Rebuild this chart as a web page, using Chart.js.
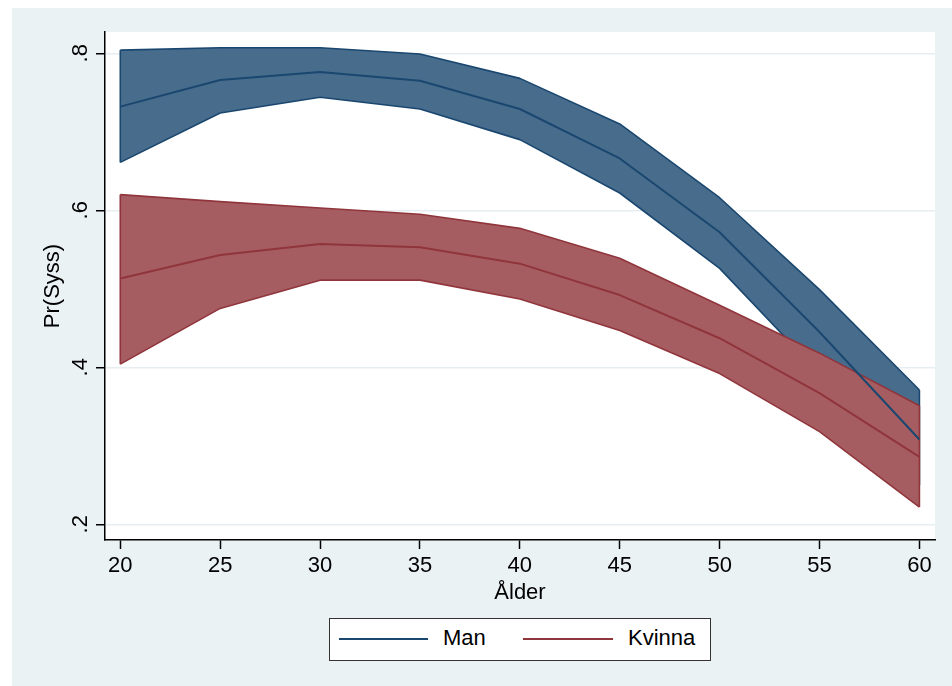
<!DOCTYPE html>
<html>
<head>
<meta charset="utf-8">
<script src="https://cdn.jsdelivr.net/npm/chart.js@4.4.1/dist/chart.umd.min.js"></script>
<style>
  html, body { margin: 0; padding: 0; background: #fff; }
  #wrap { position: relative; width: 952px; height: 686px; }
  #graf { position: absolute; left: 0; top: 0; }
  #legenda {
    position: absolute; left: 329px; top: 618px; width: 380px; height: 41px;
    background: #fff; border: 1.5px solid #333;
    font-family: "Liberation Sans", Arial, sans-serif; font-size: 22px; color: #000;
  }
  .riga { position: absolute; height: 2px; top: 19px; }
  .etic { position: absolute; top: 6px; line-height: 26px; }
</style>
</head>
<body>
<div id="wrap">
  <canvas id="graf" width="952" height="686"></canvas>
  <div id="legenda">
    <div class="riga" style="left:9px;width:89px;background:#1a476f"></div>
    <div class="etic" style="left:113px">Man</div>
    <div class="riga" style="left:193px;width:90px;background:#90353b"></div>
    <div class="etic" style="left:298px">Kvinna</div>
  </div>
</div>
<script>
// valori
var alder = [20, 25, 30, 35, 40, 45, 50, 55, 60];

var manHi  = [0.804, 0.807, 0.807, 0.799, 0.768, 0.710, 0.616, 0.499, 0.371];
var manFit = [0.732, 0.766, 0.776, 0.765, 0.729, 0.666, 0.572, 0.445, 0.308];
var manLo  = [0.661, 0.724, 0.744, 0.729, 0.690, 0.622, 0.526, 0.392, 0.250];

var kvHi  = [0.620, 0.611, 0.603, 0.595, 0.577, 0.539, 0.479, 0.418, 0.351];
var kvFit = [0.513, 0.543, 0.557, 0.553, 0.532, 0.492, 0.437, 0.367, 0.286];
var kvLo  = [0.404, 0.475, 0.511, 0.511, 0.487, 0.447, 0.392, 0.318, 0.222];

var xTicks = [20, 25, 30, 35, 40, 45, 50, 55, 60];
var yTicks = [0.2, 0.4, 0.6, 0.8];
var yTickLabels = [".2", ".4", ".6", ".8"];

var FONT = '"Liberation Sans", Arial, sans-serif';

function punti(valori){
  var out = [];
  for (var i = 0; i < alder.length; i++) {
    out.push({x: alder[i], y: valori[i]});
  }
  return out;
}

// bordi verticali della banda (primo e ultimo valore di età)
function bordo(lo, hi, i){
  return [{x: alder[i], y: lo[i]}, {x: alder[i], y: hi[i]}];
}

// sfondo stile Stata + testi ruotati dell'asse y
var sfondo = {
  id: 'sfondo',
  beforeDraw: function(chart){
    var ctx = chart.ctx;
    var a = chart.chartArea;
    ctx.save();
    ctx.fillStyle = '#eaf2f3';
    ctx.fillRect(12, 8, 940, 678);
    ctx.fillStyle = '#ffffff';
    ctx.fillRect(a.left, a.top, a.right - a.left, a.bottom - a.top);
    ctx.restore();
  },
  afterDraw: function(chart){
    var ctx = chart.ctx;
    var a = chart.chartArea;
    var sy = chart.scales.y;
    ctx.save();
    ctx.fillStyle = '#000';
    ctx.font = '22px ' + FONT;
    ctx.textAlign = 'center';
    ctx.textBaseline = 'alphabetic';
    for (var i = 0; i < yTicks.length; i++) {
      var py = sy.getPixelForValue(yTicks[i]);
      ctx.save();
      ctx.translate(87, py);
      ctx.rotate(-Math.PI / 2);
      ctx.fillText(yTickLabels[i], 0, 0);
      ctx.restore();
    }
    // titolo asse y
    ctx.save();
    ctx.translate(59, (a.top + a.bottom) / 2);
    ctx.rotate(-Math.PI / 2);
    ctx.fillText('Pr(Syss)', 0, 0);
    ctx.restore();
    // titolo asse x
    ctx.fillText('Ålder', (a.left + a.right) / 2, 599);
    ctx.restore();
  }
};

function bandaBordo(dati, colore, ordine){
  return { data: dati, borderColor: colore, borderWidth: 1.6, fill: false, order: ordine };
}

function init(){

  var n = alder.length - 1;
  var ctx = document.getElementById('graf').getContext('2d');
  var chart = new Chart(ctx, {
    type: 'line',
    data: {
      datasets: [
        {
          label: 'Man hi',
          data: punti(manHi),
          borderColor: '#1a476f',
          backgroundColor: 'rgb(72,108,140)',
          borderWidth: 1.6,
          fill: '+1',
          order: 10
        },
        {
          label: 'Man lo',
          data: punti(manLo),
          borderColor: '#1a476f',
          borderWidth: 1.6,
          fill: false,
          order: 9
        },
        bandaBordo(bordo(manLo, manHi, 0), '#1a476f', 8),
        bandaBordo(bordo(manLo, manHi, n), '#1a476f', 8),
        {
          label: 'Kvinna hi',
          data: punti(kvHi),
          borderColor: '#90353b',
          backgroundColor: 'rgb(166,93,98)',
          borderWidth: 1.6,
          fill: '+1',
          order: 7
        },
        {
          label: 'Kvinna lo',
          data: punti(kvLo),
          borderColor: '#90353b',
          borderWidth: 1.6,
          fill: false,
          order: 6
        },
        bandaBordo(bordo(kvLo, kvHi, 0), '#90353b', 5),
        bandaBordo(bordo(kvLo, kvHi, n), '#90353b', 5),
        {
          label: 'Man',
          data: punti(manFit),
          borderColor: '#1a476f',
          borderWidth: 2,
          fill: false,
          order: 2
        },
        {
          label: 'Kvinna',
          data: punti(kvFit),
          borderColor: '#90353b',
          borderWidth: 2,
          fill: false,
          order: 1
        }
      ]
    },
    options: {
      responsive: false,
      animation: false,
      elements: {
        point: { radius: 0, hoverRadius: 0 },
        line: { tension: 0, borderJoinStyle: 'round' }
      },
      layout: { padding: { left: 12, top: 32, right: 17, bottom: 0 } },
      plugins: {
        legend: { display: false },
        tooltip: { enabled: false }
      },
      scales: {
        x: {
          type: 'linear',
          min: 19.235,
          max: 60.78,
          afterBuildTicks: function(s){ s.ticks = xTicks.map(function(v){ return {value: v}; }); },
          afterFit: function(s){ s.height = 146; },
          border: { display: true, color: '#000', width: 1.5 },
          grid: { drawOnChartArea: false, drawTicks: true, tickLength: 9, tickColor: '#000', tickWidth: 1.5 },
          ticks: { color: '#000', font: { family: FONT, size: 22 }, padding: 4, maxRotation: 0, autoSkip: false }
        },
        y: {
          min: 0.18,
          max: 0.8271,
          afterBuildTicks: function(s){ s.ticks = yTicks.map(function(v){ return {value: v}; }); },
          afterFit: function(s){ s.width = 93; },
          border: { display: true, color: '#000', width: 1.5 },
          grid: { color: '#e6eef1', lineWidth: 1.5, drawTicks: true, tickLength: 9, tickColor: '#000', tickWidth: 1.5 },
          ticks: { display: false }
        }
      }
    },
    plugins: [sfondo]
  });
}

init();
</script>
</body>
</html>
